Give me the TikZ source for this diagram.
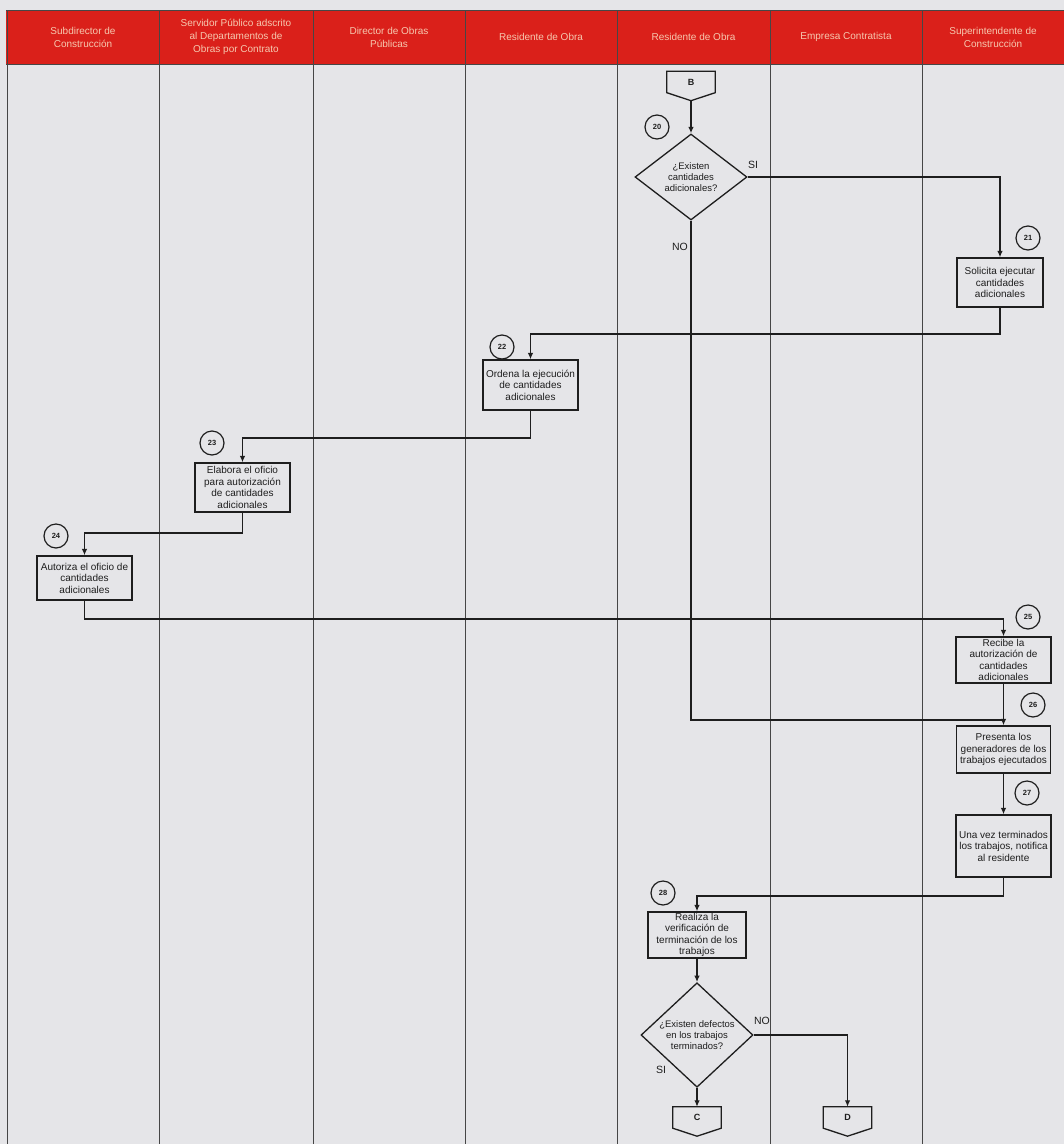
\documentclass[tikz,border=0pt]{standalone}
\usepackage{fontspec}
\setmainfont{Liberation Sans}
\usetikzlibrary{shapes.geometric,arrows.meta,calc}
\definecolor{hdrred}{RGB}{218,32,26}
\definecolor{hdrtxt}{RGB}{246,200,175}
\definecolor{paper}{RGB}{229,229,232}
\definecolor{ink}{RGB}{30,30,30}
\definecolor{gridc}{RGB}{70,70,70}
\begin{document}
\begin{tikzpicture}[x=1pt,y=-1pt,
 stepbox/.style={draw=ink, line width=1.3pt, fill=paper, inner sep=0pt, align=center, font=\fontsize{10}{11.5}\selectfont, text=ink},
 decision/.style={diamond, draw=ink, line width=1.3pt, fill=paper, inner sep=0pt, align=center, font=\fontsize{9.5}{11}\selectfont, text=ink},
 numc/.style={circle, draw=ink, line width=1.2pt, minimum size=24pt, inner sep=0pt, font=\bfseries\fontsize{7.5}{8}\selectfont, text=ink},
 offp/.style={minimum width=48pt, minimum height=21pt, inner sep=0pt, font=\bfseries\fontsize{9}{10}\selectfont, text=ink},
 offline/.style={draw=ink, line width=1.3pt},
 flow/.style={draw=ink, line width=1.8pt},
 arr/.style={flow, -{Latex[length=6.5pt,width=5.5pt]}},
 lane/.style={draw=gridc, line width=0.8pt},
 hdr/.style={align=center, text=hdrtxt, font=\fontsize{10}{13}\selectfont},
 lbl/.style={font=\fontsize{10.5}{12}\selectfont, text=ink}
]
\fill[paper] (0,0) rectangle (1064,1144);
\useasboundingbox (0,0) rectangle (1064,1144);

% header band
\fill[hdrred] (6,10) rectangle (1064,64);
\draw[lane] (6,10) -- (1064,10);
\draw[lane] (6,64) -- (1064,64);
\foreach \x in {7,159,313,465,617,770,922} {
  \draw[lane] (\x,10) -- (\x,1144);
}
\node[hdr] (h1) at (83,37) {Subdirector de\\Construcción};
\node[hdr] (h2) at (236,37) {Servidor Público adscrito\\al Departamentos de\\Obras por Contrato};
\node[hdr] (h3) at (389,37) {Director de Obras\\Públicas};
\node[hdr] (h4) at (541,37) {Residente de Obra};
\node[hdr] (h5) at (693.5,37) {Residente de Obra};
\node[hdr] (h6) at (846,37) {Empresa Contratista};
\node[hdr] (h7) at (993,37) {Superintendente de\\Construcción};

% B connector
\node[offp] (B) at (691,82) {B};
\draw[offline] (B.north west) -- (B.north east) -- (B.south east) -- ([yshift=-8pt]B.south) -- (B.south west) -- cycle;

% 20
\node[numc] (n20) at (657,127) {20};
\node[decision, minimum width=112pt, minimum height=86pt] (d20) at (691,177) {¿Existen\\cantidades\\adicionales?};
\draw[arr] ([yshift=-8pt]B.south) -- (d20.north);
\node[lbl] (si1) at (753,165) {SI};
\node[lbl] (no1) at (680,247) {NO};

% 21
\node[numc] (n21) at (1028,238) {21};
\node[stepbox, minimum width=86pt, minimum height=49pt] (s21) at (1000,282.5) {Solicita ejecutar\\cantidades\\adicionales};
\draw[arr] (d20.east) -| (s21.north);

% 22
\node[numc] (n22) at (502,347) {22};
\node[stepbox, minimum width=95pt, minimum height=50pt] (s22) at (530.5,385) {Ordena la ejecución\\de cantidades\\adicionales};
\draw[arr] (s21.south) -- ++(0,26) -| (s22.north);

% 23
\node[numc] (n23) at (212,443) {23};
\node[stepbox, minimum width=95pt, minimum height=49pt] (s23) at (242.5,487.5) {Elabora el oficio\\para autorización\\de cantidades\\adicionales};
\draw[arr] (s22.south) -- ++(0,27) -| (s23.north);

% 24
\node[numc] (n24) at (56,536) {24};
\node[stepbox, minimum width=95pt, minimum height=44pt] (s24) at (84.5,578) {Autoriza el oficio de\\cantidades\\adicionales};
\draw[arr] (s23.south) -- ++(0,20) -| (s24.north);

% 25
\node[numc] (n25) at (1028,617) {25};
\node[stepbox, minimum width=95pt, minimum height=46pt] (s25) at (1003.5,660) {Recibe la\\autorización de\\cantidades\\adicionales};
\draw[arr] (s24.south) -- ++(0,18) -| (s25.north);

% 26
\node[numc] (n26) at (1033,705) {26};
\node[stepbox, minimum width=94pt, minimum height=47pt] (s26) at (1003.5,749.5) {Presenta los\\generadores de los\\trabajos ejecutados};
\coordinate (j26) at ([yshift=5pt]s26.north);
\draw[flow] (d20.south) |- (j26);
\draw[arr] (s25.south) -- (s26.north);

% 27
\node[numc] (n27) at (1027,793) {27};
\node[stepbox, minimum width=95pt, minimum height=62pt] (s27) at (1003.5,846) {Una vez terminados\\los trabajos, notifica\\al residente};
\draw[arr] (s26.south) -- (s27.north);

% 28
\node[numc] (n28) at (663,893) {28};
\node[stepbox, minimum width=98pt, minimum height=46pt] (s28) at (697,935) {Realiza la\\verificación de\\terminación de los\\trabajos};
\draw[arr] (s27.south) -- ++(0,18) -| (s28.north);

\node[decision, minimum width=112pt, minimum height=90pt] (d28) at (697,1035) {¿Existen defectos\\en los trabajos\\terminados?};
\draw[arr] (s28.south) -- (d28.north);
\node[lbl] (no2) at (762,1021) {NO};
\node[lbl] (si2) at (661,1070) {SI};

% C and D connectors
\node[offp] (C) at (697,1117.5) {C};
\draw[offline] (C.north west) -- (C.north east) -- (C.south east) -- ([yshift=-8pt]C.south) -- (C.south west) -- cycle;
\node[offp] (D) at (847.5,1117.5) {D};
\draw[offline] (D.north west) -- (D.north east) -- (D.south east) -- ([yshift=-8pt]D.south) -- (D.south west) -- cycle;
\draw[arr] (d28.south) -- (C.north);
\draw[arr] (d28.east) -| (D.north);
\end{tikzpicture}
\end{document}
